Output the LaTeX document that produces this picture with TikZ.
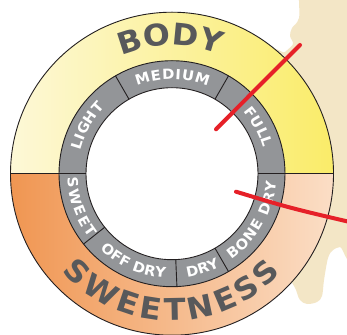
\documentclass[tikz,border=0pt]{standalone}
\usepackage{fontspec}
\setmainfont{DejaVu Sans}[FakeStretch=1.06]
\usetikzlibrary{decorations.text}
\definecolor{yelL}{RGB}{253,248,215}
\definecolor{yelR}{RGB}{250,236,105}
\definecolor{orL}{RGB}{240,150,82}
\definecolor{orR}{RGB}{251,222,198}
\definecolor{ringgrey}{RGB}{147,149,152}
\definecolor{txtgrey}{RGB}{88,89,91}
\definecolor{beige}{RGB}{243,230,198}
\definecolor{redline}{RGB}{230,32,40}
\definecolor{edge}{RGB}{35,31,32}
\newcommand\ringfont{\fontsize{14}{15}\selectfont\bfseries\color{white}}
\newcommand\bigfont{\fontsize{30}{32}\selectfont\bfseries\color{txtgrey}}
\begin{document}
\begin{tikzpicture}[x=1pt,y=1pt,
  textfit/.style={decorate, decoration={text along path, text align={fit to path}, text={#1}}},
  textmid/.style={decorate, decoration={text along path, text align=center, text={#1}}},
  divline/.style={draw=edge, line width=0.9pt},
  marker/.style={draw=redline, line width=4pt, line cap=round}]
\useasboundingbox (0,0) rectangle (347,334);
\fill[white] (0,0) rectangle (347,334);
\begin{scope}
  \clip (0,0) rectangle (347,334);
  \fill[beige] plot[smooth cycle, tension=0.55] coordinates {
    (305,350) (299,316) (292,306) (290,298) (293,290) (285,282) (270,268)
    (280,90) (296,44) (300,34) (307,30) (317,32) (322,38) (324,54)
    (328,76) (333,84) (340,87) (355,90) (365,340)};
\end{scope}
\begin{scope}[shift={(172,160.3)}]
  \coordinate (C) at (0,0);
  \shade[left color=yelL, right color=yelR] (161.5,0) arc[start angle=0,end angle=180,radius=161.5] -- cycle;
  \shade[left color=orL, right color=orR] (-161.5,0) arc[start angle=180,end angle=360,radius=161.5] -- cycle;
  \fill[ringgrey] (C) circle[radius=113];
  \fill[white] (C) circle[radius=86];
  \draw[divline] (C) circle[radius=161.5];
  \draw[divline] (C) circle[radius=113];
  \draw[divline] (C) circle[radius=86];
  \draw[divline] (-161.5,0) -- (-86,0);
  \draw[divline] (86,0) -- (161.5,0);
  \foreach \a in {60,120,218.5,272.5,300}
    \draw[divline] (\a:86) -- (\a:113);
  % ring labels, top (clockwise)
  \path[textmid={|\ringfont|LIGHT}] (175:94.5) arc[start angle=175,end angle=126,radius=94.5];
  \path[textfit={|\ringfont|MEDIUM}] (111.7:94.5) arc[start angle=111.7,end angle=67.7,radius=94.5];
  \path[textmid={|\ringfont|FULL}] (53:94.5) arc[start angle=53,end angle=3.5,radius=94.5];
  % ring labels, bottom (counter-clockwise)
  \path[textfit={|\ringfont|SWEET}] (182:104.5) arc[start angle=182,end angle=218,radius=104.5];
  \path[textmid={|\ringfont|OFF DRY}] (221.4:104.5) arc[start angle=221.4,end angle=271.4,radius=104.5];
  \path[textmid={|\ringfont|DRY}] (272.85:104.5) arc[start angle=272.85,end angle=302.85,radius=104.5];
  \path[textfit={|\ringfont|BONE DRY}] (304.6:104.5) arc[start angle=304.6,end angle=355.7,radius=104.5];
  % big labels
  \path[textmid={|\bigfont|BODY}] (130.75:128.5) arc[start angle=130.75,end angle=50.75,radius=128.5];
  \path[textfit={|\bigfont|SWEETNESS}] (221.5:147) arc[start angle=221.5,end angle=318,radius=147];
\end{scope}
\coordinate (r1a) at (300,289);
\coordinate (r1b) at (216,204.7);
\coordinate (r2a) at (236,142.3);
\coordinate (r2b) at (352,111.5);
\draw[marker] (r1a) .. controls (256,245) .. (r1b);
\draw[marker] (r2a) .. controls (290,126) .. (r2b);
\end{tikzpicture}
\end{document}
